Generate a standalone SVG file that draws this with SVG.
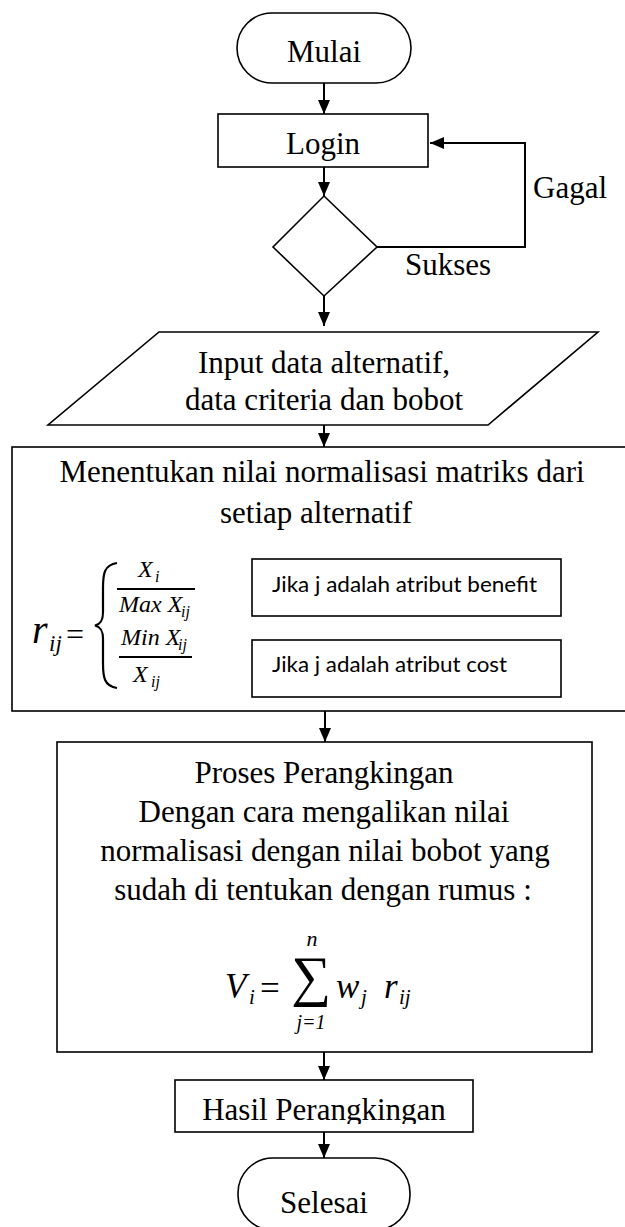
<svg xmlns="http://www.w3.org/2000/svg" width="625" height="1227" viewBox="0 0 625 1227">
<style>
.shape{fill:#fff;stroke:#000;stroke-width:1.6}
.conn{fill:none;stroke:#000;stroke-width:2}
.t{font-family:"Liberation Serif","Times New Roman",serif;font-size:31px;fill:#000;text-anchor:middle}
.tl{font-family:"Liberation Serif","Times New Roman",serif;font-size:31px;fill:#000}
.c{font-family:Lato,"Open Sans","Liberation Sans",sans-serif;font-size:22px;fill:#000}
.m{font-family:"Liberation Serif","Times New Roman",serif;font-style:italic;fill:#000}
.mu{font-family:"Liberation Serif","Times New Roman",serif;fill:#000}
</style>
<defs>
<marker id="ah" markerUnits="userSpaceOnUse" markerWidth="14" markerHeight="12" refX="14" refY="6" orient="auto">
<path d="M0,0 L14,6 L0,12 Z" fill="#000"/>
</marker>
<clipPath id="hasilClip"><rect x="170" y="1075" width="310" height="49"/></clipPath>
</defs>
<rect width="625" height="1227" fill="#fff"/>

<g id="connectors">
<line class="conn" x1="324" y1="83" x2="324" y2="114" marker-end="url(#ah)"/>
<line class="conn" x1="324" y1="167" x2="324" y2="196" marker-end="url(#ah)"/>
<polyline class="conn" points="377,247 525,247 525,143 430,143" marker-end="url(#ah)"/>
<line class="conn" x1="324" y1="296" x2="324" y2="326" marker-end="url(#ah)"/>
<line class="conn" x1="324" y1="425" x2="324" y2="447" marker-end="url(#ah)"/>
<line class="conn" x1="325" y1="711" x2="325" y2="742" marker-end="url(#ah)"/>
<line class="conn" x1="324" y1="1052" x2="324" y2="1080" marker-end="url(#ah)"/>
<line class="conn" x1="324" y1="1132" x2="324" y2="1158" marker-end="url(#ah)"/>
<text class="tl" x="533" y="198">Gagal</text>
<text class="tl" x="405" y="275">Sukses</text>
</g>

<g id="mulai">
<rect class="shape" x="237" y="13" width="174" height="70" rx="35" ry="35"/>
<text class="t" x="324" y="62">Mulai</text>
</g>

<g id="login">
<rect class="shape" x="218" y="114" width="210" height="53"/>
<text class="t" x="323" y="154">Login</text>
</g>

<g id="decision">
<polygon class="shape" points="324,196 377,247 324,296 273,247"/>
</g>

<g id="input">
<polygon class="shape" points="159,332 598,332 488,425 48,425"/>
<text class="t" x="324" y="373">Input data alternatif,</text>
<text class="t" x="324" y="410">data criteria dan bobot</text>
</g>

<g id="normalisasi">
<rect class="shape" x="12" y="447" width="622" height="264"/>
<text class="t" x="322" y="482">Menentukan nilai normalisasi matriks dari</text>
<text class="t" x="316" y="523">setiap alternatif</text>
<text class="m" x="32" y="643" font-size="40">r</text>
<text class="m" x="49" y="651" font-size="23">ij</text>
<text class="mu" x="66" y="645" font-size="32">=</text>
<path d="M117,563 C104,565 103,574 103,588 L103,612 C103,620 101,624 95,625.5 C101,627 103,631 103,639 L103,663 C103,677 104,686 117,688" fill="none" stroke="#000" stroke-width="2.2"/>
<text class="m" x="138" y="577" font-size="24">X</text>
<text class="m" x="155" y="582" font-size="16">i</text>
<line x1="117" y1="589" x2="195" y2="589" stroke="#000" stroke-width="1.8"/>
<text class="m" x="119" y="612" font-size="24">Max X</text>
<text class="m" x="181" y="617" font-size="16">ij</text>
<text class="m" x="121" y="645" font-size="24">Min X</text>
<text class="m" x="178" y="650" font-size="16">ij</text>
<line x1="119" y1="657" x2="192" y2="657" stroke="#000" stroke-width="1.8"/>
<text class="m" x="133" y="682" font-size="24">X</text>
<text class="m" x="151" y="687" font-size="16">ij</text>
</g>

<g id="benefit">
<rect class="shape" x="252" y="559" width="309" height="57"/>
<text class="c" x="272" y="592" textLength="265" lengthAdjust="spacingAndGlyphs">Jika j adalah atribut benefit</text>
</g>

<g id="cost">
<rect class="shape" x="252" y="640" width="309" height="57"/>
<text class="c" x="272" y="672" textLength="235" lengthAdjust="spacingAndGlyphs">Jika j adalah atribut cost</text>
</g>

<g id="proses">
<rect class="shape" x="57" y="742" width="535" height="310"/>
<text class="t" x="324" y="783">Proses Perangkingan</text>
<text class="t" x="324" y="822">Dengan cara mengalikan nilai</text>
<text class="t" x="325" y="861">normalisasi dengan nilai bobot yang</text>
<text class="t" x="323" y="900">sudah di tentukan dengan rumus :</text>
<text class="m" x="225" y="998" font-size="35">V</text>
<text class="m" x="249" y="1004" font-size="21">i</text>
<text class="mu" x="260" y="1000" font-size="35">=</text>
<text class="mu" x="311" y="995" font-size="56" text-anchor="middle">∑</text>
<text class="m" x="312" y="946" font-size="22" text-anchor="middle">n</text>
<text class="m" x="311" y="1029" font-size="20" text-anchor="middle">j=1</text>
<text class="m" x="336" y="998" font-size="35">w</text>
<text class="m" x="361" y="1004" font-size="21">j</text>
<text class="m" x="384" y="998" font-size="35">r</text>
<text class="m" x="399" y="1004" font-size="21">ij</text>
</g>

<g id="hasil">
<rect class="shape" x="175" y="1080" width="298" height="52"/>
<text class="t" x="324" y="1120" clip-path="url(#hasilClip)">Hasil Perangkingan</text>
</g>

<g id="selesai">
<rect class="shape" x="238" y="1158" width="172" height="72" rx="35" ry="35"/>
<text class="t" x="324" y="1213">Selesai</text>
</g>
</svg>
